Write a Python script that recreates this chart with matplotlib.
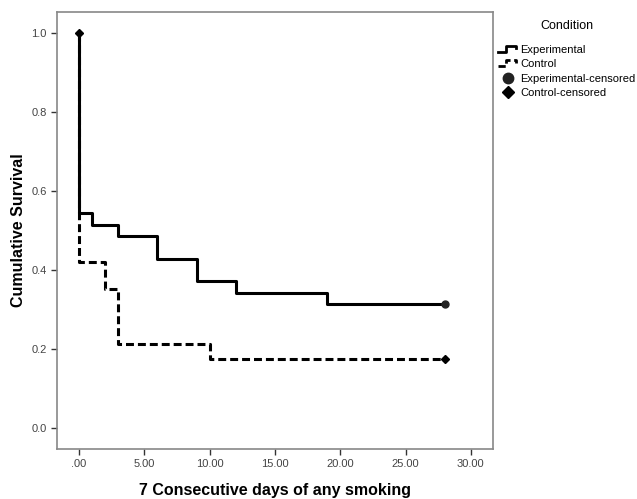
import matplotlib

matplotlib.use('Agg')
import numpy as np
import matplotlib.pyplot as plt
from matplotlib.legend_handler import HandlerBase
from matplotlib.lines import Line2D

plt.rcParams['font.family'] = ['Liberation Sans', 'DejaVu Sans']

# Kaplan-Meier step data
exp_time = [0, 0, 1, 3, 6, 9, 12, 19, 28]
exp_surv = [1.0, 0.543, 0.514, 0.486, 0.429, 0.371, 0.343, 0.314, 0.314]
ctl_time = [0, 0, 2, 3, 10, 28]
ctl_surv = [1.0, 0.419, 0.352, 0.212, 0.176, 0.176]

# censored points
exp_cens_t = [28]
exp_cens_s = [0.314]
ctl_cens_t = [0, 28]
ctl_cens_s = [1.0, 0.176]

xticks = [0, 5, 10, 15, 20, 25, 30]
xtick_labels = ['.00', '5.00', '10.00', '15.00', '20.00', '25.00', '30.00']
yticks = [0.0, 0.2, 0.4, 0.6, 0.8, 1.0]

DASH = (2.6, 1.3)


class StepHandler(HandlerBase):
    # draws a small step glyph like SPSS legends
    def create_artists(self, legend, orig_handle, xdescent, ydescent,
                       width, height, fontsize, trans):
        x0 = -xdescent
        w = width
        y_lo = -ydescent + height * 0.15
        y_hi = -ydescent + height * 0.9
        y_mid = -ydescent + height * 0.6
        xs = [x0, x0 + w * 0.4, x0 + w * 0.4, x0 + w * 0.9, x0 + w * 0.9]
        ys = [y_lo, y_lo, y_hi, y_hi, y_mid]
        line = Line2D(xs, ys, color='black', lw=orig_handle.get_linewidth(),
                      transform=trans)
        if orig_handle.get_linestyle() != '-':
            line.set_dashes(DASH)
        return [line]


fig = plt.figure(figsize=(6.37, 4.99), dpi=100)
ax = fig.add_axes([0.0895, 0.1002, 0.6845, 0.8758])

ax.step(exp_time, exp_surv, where='post', color='black', lw=2.2)
ax.step(ctl_time, ctl_surv, where='post', color='black', lw=2.2,
        linestyle=(0, DASH))
ax.plot(exp_cens_t, exp_cens_s, 'o', color='#222222', ms=5, mec='#222222')
ax.plot(ctl_cens_t, ctl_cens_s, 'D', color='black', ms=4.5)

ax.set_xlim(-1.68, 31.7)
ax.set_ylim(-0.053, 1.053)
ax.set_xticks(xticks)
ax.set_xticklabels(xtick_labels)
ax.set_yticks(yticks)
ax.set_yticklabels(['%.1f' % v for v in yticks])
ax.tick_params(axis='both', labelsize=8, labelcolor='#444444', color='#333333',
               length=4, width=1)

for sp in ax.spines.values():
    sp.set_color('#888888')
    sp.set_linewidth(1.2)

ax.set_xlabel('7 Consecutive days of any smoking', fontsize=11.5, fontweight='bold',
              labelpad=10)
ax.set_ylabel('Cumulative Survival', fontsize=11.5, fontweight='bold', labelpad=4)

# legend
h_exp = Line2D([], [], color='black', lw=2.0, linestyle='-')
h_ctl = Line2D([], [], color='black', lw=2.0, linestyle='--')
h_ecens = Line2D([], [], marker='o', color='#222222', linestyle='none', ms=7.5)
h_ccens = Line2D([], [], marker='D', color='black', linestyle='none', ms=6.5)
leg = fig.legend([h_exp, h_ctl, h_ecens, h_ccens],
                 ['Experimental', 'Control', 'Experimental-censored',
                  'Control-censored'],
                 title='Condition', loc='upper left',
                 bbox_to_anchor=(0.775, 0.968), frameon=False, fontsize=8,
                 title_fontsize=9, handlelength=1.8, handletextpad=0.2,
                 labelspacing=0.4, borderaxespad=0,
                 handler_map={h_exp: StepHandler(), h_ctl: StepHandler()})
leg._legend_box.align = 'center'
leg._legend_box.sep = 9

fig.savefig('out.png', dpi=100)
